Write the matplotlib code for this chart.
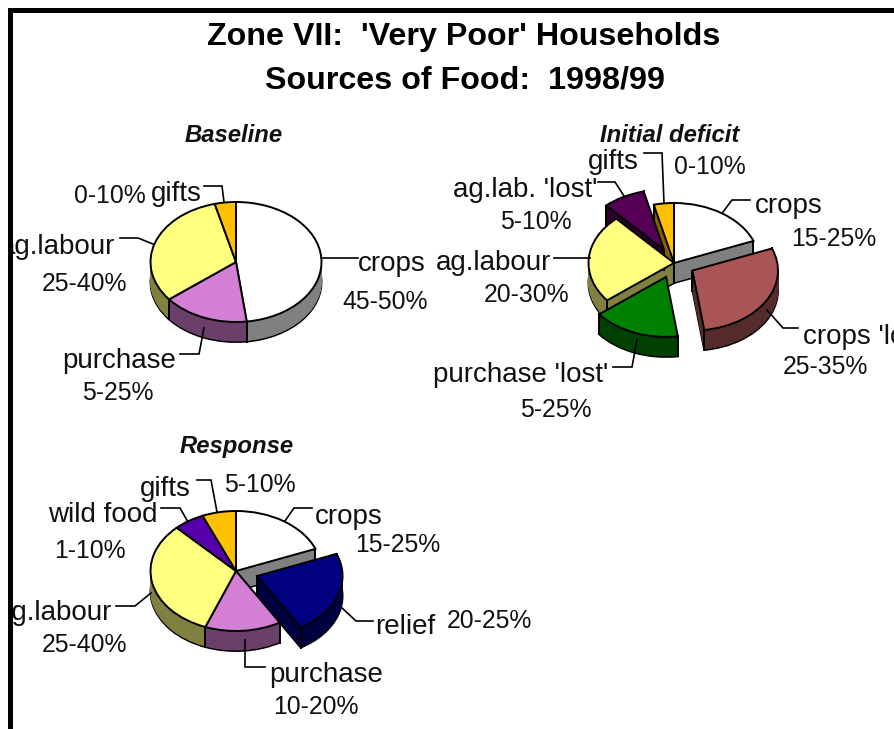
import matplotlib
matplotlib.use("Agg")
import matplotlib.pyplot as plt
from matplotlib.patches import Rectangle
import numpy as np

plt.rcParams['font.family'] = ['Liberation Sans', 'DejaVu Sans']

W, H = 895, 729
title_lines = ["Zone VII:  'Very Poor' Households", "Sources of Food:  1998/99"]

# ---- data ----
baseline_labels = ["crops", "purchase", "ag.labour", "gifts"]
baseline_ranges = ["45-50%", "5-25%", "25-40%", "0-10%"]
baseline_values = [48, 16.3, 31.7, 4]

deficit_labels = ["crops", "crops 'lost'", "purchase 'lost'", "ag.labour", "ag.lab. 'lost'", "gifts"]
deficit_ranges = ["15-25%", "25-35%", "5-25%", "20-30%", "5-10%", "0-10%"]
deficit_values = [19, 28.8, 16.5, 23.9, 8, 3.8]
deficit_explode = [0, 0.25, 0.25, 0, 0.25, 0]

response_labels = ["crops", "relief", "purchase", "ag.labour", "wild food", "gifts"]
response_ranges = ["15-25%", "20-25%", "10-20%", "25-40%", "1-10%", "5-10%"]
response_values = [19, 22.5, 14.4, 32, 5.8, 6.4]
response_explode = [0, 0.26, 0, 0, 0, 0]

# ---- styles ----
FACE = {"crops": "#FFFFFF", "purchase": "#D37FD3", "ag.labour": "#FFFF80", "gifts": "#FFC000",
        "crops 'lost'": "#AA5555", "purchase 'lost'": "#008000", "ag.lab. 'lost'": "#550055",
        "relief": "#000080", "wild food": "#5500AA"}
WALL = {"crops": "#808080", "purchase": "#6A406A", "ag.labour": "#808040", "gifts": "#806000",
        "crops 'lost'": "#552B2B", "purchase 'lost'": "#004000", "ag.lab. 'lost'": "#2B002B",
        "relief": "#000040", "wild food": "#2B0055"}
RX, RY, DEPTH = 85.5, 60.0, 20
LW = 1.4

fig = plt.figure(figsize=(W / 100, H / 100), dpi=100, facecolor="white")


def draw_pie(cx, cy, values, labels, explode=None):
    ax = fig.add_axes([0, 0, 1, 1], facecolor="none")
    explode = explode or [0] * len(values)
    walls = [WALL[l] for l in labels]
    faces = [FACE[l] for l in labels]
    kw = dict(startangle=90, counterclock=False, explode=explode)
    ax.pie(values, colors=walls, center=(0, -DEPTH / RY),
           wedgeprops=dict(edgecolor="black", linewidth=LW), **kw)
    for d in np.arange(DEPTH - 1, 0, -1):
        ax.pie(values, colors=walls, center=(0, -d / RY),
               wedgeprops=dict(edgecolor="none", linewidth=0), **kw)
        for w in ax.patches[-len(values):]:
            w.set_edgecolor(w.get_facecolor())
            w.set_linewidth(0.6)
    # vertical wall edges
    bounds = np.cumsum([0] + list(values)) / sum(values) * 2 * np.pi
    for i in range(len(values)):
        mid = (bounds[i] + bounds[i + 1]) / 2
        ex, ey = explode[i] * np.sin(mid), explode[i] * np.cos(mid)
        for xx, yy in [(ex + np.sin(bounds[i]), ey + np.cos(bounds[i])),
                       (ex + np.sin(bounds[i + 1]), ey + np.cos(bounds[i + 1])),
                       (ex, ey)]:
            ax.plot([xx, xx], [yy, yy - DEPTH / RY], color="black", lw=LW, zorder=2)
    ax.pie(values, colors=faces, center=(0, 0),
           wedgeprops=dict(edgecolor="black", linewidth=LW, zorder=3), **kw)
    ax.set_aspect("auto")
    ax.set_xlim(-cx / RX, (W - cx) / RX)
    ax.set_ylim(-(H - cy) / RY, cy / RY)
    ax.axis("off")


draw_pie(236, 262, baseline_values, baseline_labels)
draw_pie(674, 263, deficit_values, deficit_labels, deficit_explode)
draw_pie(236, 571, response_values, response_labels, response_explode)

ov = fig.add_axes([0, 0, 1, 1], facecolor="none")
ov.set_xlim(0, W)
ov.set_ylim(H, 0)
ov.axis("off")

WORD, PCT = 20.0, 17.8
TXT = "#111111"


def t(x, y, s, ha="center", size=WORD, **kw):
    ov.text(x, y + 1.5, s, ha=ha, va="center", fontsize=size, color=TXT, clip_on=False, **kw)


ov.text(464, 36.5, title_lines[0], ha="center", va="center", fontsize=23.2, fontweight="bold", color="black")
ov.text(465, 80.5, title_lines[1], ha="center", va="center", fontsize=23.2, fontweight="bold", color="black")
for x, y, s in [(234, 135, "Baseline"), (670, 135, "Initial deficit"), (237, 446, "Response")]:
    ov.text(x, y, s, ha="center", va="center", fontsize=17.2, fontweight="bold", style="italic", color="#111111")

# word labels: (x, y, ha) in the order of each label list
baseline_word_pos = [(358, 262, "left"), (176, 359, "right"), (115, 245, "right"), (202, 192, "right")]
baseline_pct_pos = [(385, 300), (118, 391), (85, 282), (110, 194)]
deficit_word_pos = [(755, 204, "left"), (803, 335, "left"), (608, 373, "right"), (551, 261, "right"),
                    (597, 188, "right"), (639, 160, "right")]
deficit_pct_pos = [(834, 237), (825, 365), (556, 408), (527, 293), (536, 220), (710, 165)]
response_word_pos = [(315, 515, "left"), (375, 626, "left"), (383, 673, "right"), (112, 612, "right"),
                     (158, 514, "right"), (191, 487, "right")]
response_pct_pos = [(398, 543), (489, 620), (316, 705), (85, 643), (90, 549), (260, 483)]

for labels, ranges, wpos, ppos in [
    (baseline_labels, baseline_ranges, baseline_word_pos, baseline_pct_pos),
    (deficit_labels, deficit_ranges, deficit_word_pos, deficit_pct_pos),
    (response_labels, response_ranges, response_word_pos, response_pct_pos),
]:
    for lab, (x, y, ha) in zip(labels, wpos):
        t(x, y, lab, ha=ha)
    for r, (x, y) in zip(ranges, ppos):
        t(x, y, r, size=PCT)

# leader lines
leaders = [
    [(321, 258), (358, 258)],
    [(120, 238), (138, 238), (153, 244)],
    [(204, 186), (222, 186), (224, 202)],
    [(180, 354), (199, 354), (204, 328)],
    [(644, 153), (662, 153), (664, 203)],
    [(598, 182), (615, 182), (624, 196)],
    [(750, 200), (732, 200), (723, 212)],
    [(554, 258), (590, 258)],
    [(767, 310), (783, 328), (798, 328)],
    [(613, 367), (632, 367), (637, 340)],
    [(197, 480), (211, 480), (217, 512)],
    [(161, 508), (180, 508), (188, 522)],
    [(312, 508), (294, 508), (285, 521)],
    [(116, 606), (135, 606), (151, 593)],
    [(341, 607), (356, 621), (373, 621)],
    [(245, 640), (245, 667), (265, 667)],
]
for seg in leaders:
    xs, ys = zip(*seg)
    ov.plot(xs, ys, color="black", lw=1.2, zorder=4, solid_joinstyle="miter")

# page frame (cuts off labels running past it)
ov.add_patch(Rectangle((0, 0), 8, H, fc="white", ec="none", zorder=10))
ov.add_patch(Rectangle((0, 0), W, 8, fc="white", ec="none", zorder=10))
ov.add_patch(Rectangle((8, 8), 5, H, fc="black", ec="none", zorder=11))
ov.add_patch(Rectangle((8, 8), W, 5, fc="black", ec="none", zorder=11))

fig.savefig("out.png", dpi=100)
